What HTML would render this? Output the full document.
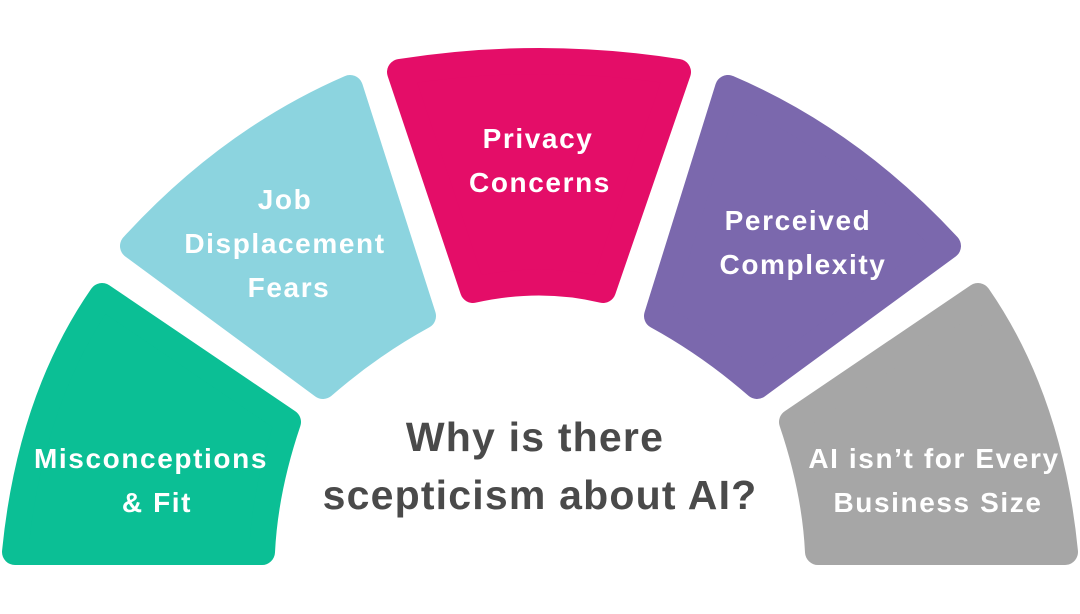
<!DOCTYPE html>
<html><head><meta charset="utf-8"><style>
html,body{margin:0;padding:0;background:#fff;width:1080px;height:614px;overflow:hidden}
svg{display:block}
text{font-family:"Liberation Sans",sans-serif;font-weight:bold}
</style></head><body>
<svg width="1080" height="614" viewBox="0 0 1080 614">
<g stroke-linejoin="round" stroke-width="26">
<path fill="#0bbf95" stroke="#0bbf95" d="M102,296 L288,422 Q265,490 262,552 L15,552 Q30,400 102,296 Z"/>
<path fill="#8cd4df" stroke="#8cd4df" d="M133,246 Q230,140 350,88 L423,316 Q370,345 323,386 Z"/>
<path fill="#e40d68" stroke="#e40d68" d="M400,72 Q540,50 678,72 L603,290 Q540,275 473,290 Z"/>
<path fill="#7b68ad" stroke="#7b68ad" d="M728,88 Q850,140 948,246 L757,386 Q710,345 657,316 Z"/>
<path fill="#a6a6a6" stroke="#a6a6a6" d="M978,296 Q1050,400 1065,552 L818,552 Q815,490 792,422 Z"/>
</g>
<g fill="#fff" font-size="28" text-anchor="middle" letter-spacing="1.6">
<text x="151" y="468">Misconceptions</text>
<text x="157" y="512">&amp; Fit</text>
<text x="285" y="209">Job</text>
<text x="285" y="253">Displacement</text>
<text x="289" y="297">Fears</text>
<text x="538" y="148">Privacy</text>
<text x="540" y="192">Concerns</text>
<text x="798" y="230">Perceived</text>
<text x="803" y="274">Complexity</text>
<text x="934" y="468">AI isn’t for Every</text>
<text x="938" y="512">Business Size</text>
</g>
<g fill="#4a4a4a" font-size="41" text-anchor="middle" letter-spacing="1.2">
<text x="535" y="451">Why is there</text>
<text x="540" y="509">scepticism about AI?</text>
</g>
</svg>
</body></html>
